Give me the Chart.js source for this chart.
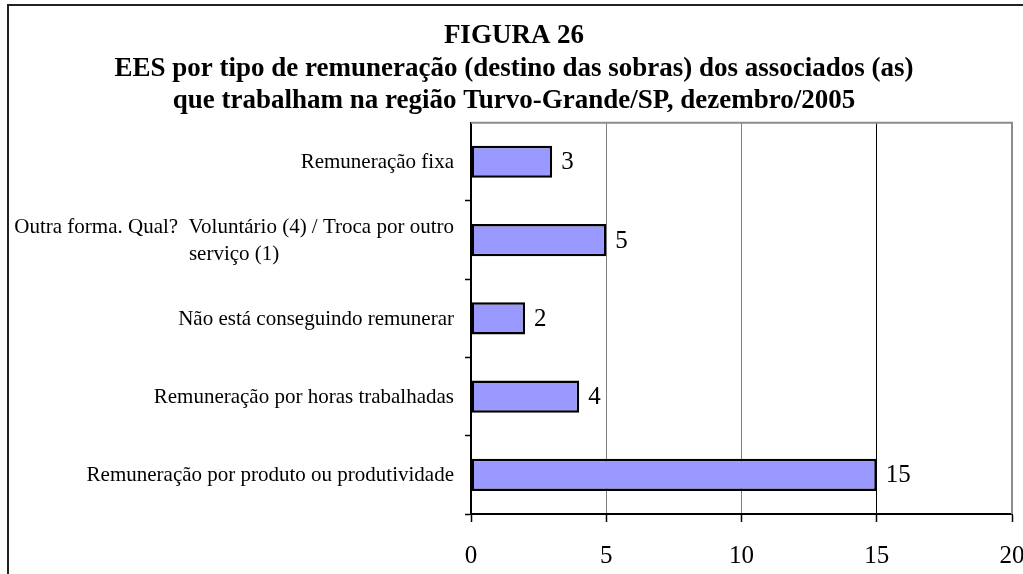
<!DOCTYPE html>
<html>
<head>
<meta charset="utf-8">
<script src="https://cdn.jsdelivr.net/npm/chart.js@4/dist/chart.umd.min.js"></script>
<style>
  html, body { margin: 0; padding: 0; background: #fff; }
  #wrap { width: 1023px; height: 574px; position: relative; }
</style>
</head>
<body>
<div id="wrap"><canvas id="chart"></canvas></div>
<script>
  var titleLines = [
    'FIGURA 26',
    'EES por tipo de remuneração (destino das sobras) dos associados (as)',
    'que trabalham na região Turvo-Grande/SP, dezembro/2005'
  ];

  var categories = [
    ['Remuneração fixa'],
    ['Outra forma. Qual?  Voluntário (4) / Troca por outro', 'serviço (1)'],
    ['Não está conseguindo remunerar'],
    ['Remuneração por horas trabalhadas'],
    ['Remuneração por produto ou produtividade']
  ];

  var values = [3, 5, 2, 4, 15];

  var xTicks = [0, 5, 10, 15, 20];

  var SERIF = '"Liberation Serif", "Times New Roman", serif';

  // outer frame + white background
  var framePlugin = {
    id: 'frame',
    beforeDraw: function (chart) {
      var ctx = chart.ctx;
      ctx.save();
      ctx.fillStyle = '#fff';
      ctx.fillRect(0, 0, chart.width, chart.height);
      ctx.strokeStyle = '#222';
      ctx.lineWidth = 2;
      ctx.strokeRect(8, 5, chart.width + 40, chart.height + 40);
      ctx.restore();
    }
  };

  // gray border on top and right of plot area
  var plotBorderPlugin = {
    id: 'plotBorder',
    beforeDatasetsDraw: function (chart) {
      var a = chart.chartArea;
      var ctx = chart.ctx;
      ctx.save();
      ctx.strokeStyle = '#8c8c8c';
      ctx.lineWidth = 2;
      ctx.beginPath();
      ctx.moveTo(a.left, a.top);
      ctx.lineTo(a.right, a.top);
      ctx.lineTo(a.right, a.bottom);
      ctx.stroke();
      ctx.restore();
    }
  };

  // category labels, multi-line ones centred on their widest line
  var catLabelPlugin = {
    id: 'catLabels',
    afterDraw: function (chart) {
      var ctx = chart.ctx;
      var yScale = chart.scales.y;
      var rightX = yScale.right - 6 - 11;
      var lh = 27;
      ctx.save();
      ctx.font = '21px ' + SERIF;
      ctx.fillStyle = '#000';
      ctx.textBaseline = 'middle';
      categories.forEach(function (lines, i) {
        var y = yScale.getPixelForValue(i);
        var widest = Math.max.apply(null, lines.map(function (l) { return ctx.measureText(l).width; }));
        var cx = rightX - widest / 2;
        var y0 = y - (lines.length - 1) * lh / 2 + 1;
        ctx.textAlign = lines.length > 1 ? 'center' : 'right';
        lines.forEach(function (l, j) {
          ctx.fillText(l, lines.length > 1 ? cx : rightX, y0 + j * lh);
        });
      });
      ctx.restore();
    }
  };

  // value labels at bar ends
  var valueLabelPlugin = {
    id: 'valueLabels',
    afterDatasetsDraw: function (chart) {
      var ctx = chart.ctx;
      var meta = chart.getDatasetMeta(0);
      ctx.save();
      ctx.font = '25px ' + SERIF;
      ctx.fillStyle = '#000';
      ctx.textAlign = 'left';
      ctx.textBaseline = 'middle';
      meta.data.forEach(function (bar, i) {
        ctx.fillText(String(values[i]), bar.x + 9, bar.y + 1);
      });
      ctx.restore();
    }
  };

  new Chart(document.getElementById('chart'), {
    type: 'bar',
    data: {
      labels: categories.map(function (c) { return c.join(' '); }),
      datasets: [{
        data: values,
        backgroundColor: '#9999ff',
        borderColor: '#000',
        borderWidth: 2.5,
        borderSkipped: false,
        barPercentage: 0.41,
        categoryPercentage: 1
      }]
    },
    options: {
      indexAxis: 'y',
      responsive: true,
      maintainAspectRatio: false,
      animation: false,
      layout: { padding: { top: 0, right: 11, left: 16, bottom: 0 } },
      plugins: {
        legend: { display: false },
        tooltip: { enabled: false },
        title: {
          display: true,
          text: titleLines,
          color: '#000',
          font: { family: SERIF, size: 27, weight: 'bold', lineHeight: 1.2 },
          padding: { top: 20, bottom: 5.5 }
        }
      },
      scales: {
        x: {
          min: 0,
          max: 20,
          afterBuildTicks: function (scale) {
            scale.ticks = xTicks.map(function (v) { return { value: v }; });
          },
          afterFit: function (scale) {
            scale.height = 60;
            scale.paddingLeft = 0;
            scale.paddingRight = 0;
          },
          grid: {
            color: function (c) {
              var v = c.tick && c.tick.value;
              if (v === 0 || v === 20) return 'rgba(0,0,0,0)';
              if (v === 15) return '#000';
              return '#808080';
            },
            lineWidth: 1,
            tickColor: '#000',
            tickLength: 8,
            tickWidth: 1.5
          },
          border: { color: '#000', width: 2 },
          ticks: {
            color: '#000',
            padding: 19,
            maxRotation: 0,
            font: { family: SERIF, size: 25 }
          }
        },
        y: {
          afterFit: function (scale) { scale.width = 455; },
          grid: {
            drawOnChartArea: false,
            tickLength: 6,
            tickWidth: 1.5,
            tickColor: function (c) { return c.index === 0 ? 'rgba(0,0,0,0)' : '#000'; }
          },
          border: { color: '#000', width: 2 },
          ticks: { display: false }
        }
      }
    },
    plugins: [framePlugin, plotBorderPlugin, valueLabelPlugin, catLabelPlugin]
  });
</script>
</body>
</html>
